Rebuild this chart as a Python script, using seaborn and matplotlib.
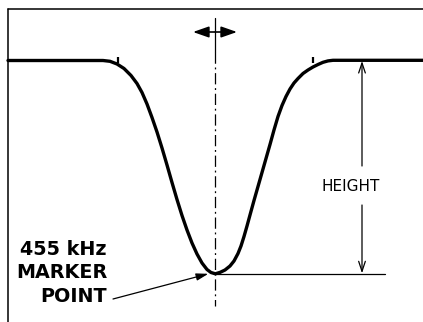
import matplotlib
matplotlib.use("Agg")
import matplotlib.pyplot as plt
import seaborn as sns
import pandas as pd

# Response curve (pixel-like diagram units, y grows downward)
curve_x = [8, 60, 103, 110, 117, 124, 131, 137, 142, 147, 152, 157, 162, 167, 172, 177,
           182, 187, 192, 197, 202, 207, 211, 215.3,
           220, 225, 230, 234, 238, 241, 244, 247, 250, 254, 258, 262, 266, 270, 274,
           278, 282, 286, 290, 294, 298, 303, 308, 313, 318, 323, 328, 333, 380, 423]
curve_y = [60.5, 60.5, 60.5, 61.3, 64, 68.5, 75.5, 83.5, 92.5, 104, 117.5, 132, 148, 165,
           182.5, 199.5, 215.5, 230, 243, 254, 263, 269.5, 272.5, 273.8,
           272.4, 270, 266, 261, 253.5, 246, 236.5, 226, 215, 200.5, 186.5, 172.5, 158.5,
           144.5, 130, 116.5, 105.5, 96.5, 89, 83, 78.5, 73.5, 70, 67, 64.5, 62.3, 60.9,
           60.3, 60.3, 60.3]
marker_ticks_x = [118, 313]
marker_label = "455 kHz\nMARKER\nPOINT"
height_label = "HEIGHT"

df = pd.DataFrame({"x": curve_x, "y": curve_y})

sns.set_theme(style="white")
plt.rcParams["font.family"] = ["DejaVu Sans"]

fig = plt.figure(figsize=(4.23, 3.22), dpi=100)
ax = fig.add_axes([0, 0, 1, 1])
ax.set_xlim(0, 423)
ax.set_ylim(322, 0)
ax.axis("off")

# frame
ax.plot([8, 423], [9, 9], color="black", lw=1.1)
ax.plot([8, 8], [9, 322], color="black", lw=1.1)

# curve
sns.lineplot(data=df, x="x", y="y", ax=ax, color="black", lw=2.4, sort=False,
             estimator=None)
ax.lines[-1].set_solid_joinstyle("round")

# small marker ticks on shoulders
for tx in marker_ticks_x:
    ax.plot([tx, tx], [56.5, 63], color="black", lw=1.6, solid_capstyle="butt")

min_i = curve_y.index(max(curve_y))
cx, cy = curve_x[min_i], curve_y[min_i]

# dash-dot center line
ax.plot([cx, cx], [18, 52], color="black", lw=0.9)
ax.plot([cx, cx], [52, 306], color="black", lw=0.9, dashes=(9, 3, 1.5, 3))

# horizontal double arrow at top
ax.annotate("", xy=(193, 32), xytext=(cx, 32),
            arrowprops=dict(arrowstyle="-|>,head_length=0.8,head_width=0.28", color="black", lw=1.2,
                            shrinkA=0, shrinkB=0))
ax.annotate("", xy=(237, 32), xytext=(cx, 32),
            arrowprops=dict(arrowstyle="-|>,head_length=0.8,head_width=0.28", color="black", lw=1.2,
                            shrinkA=0, shrinkB=0))

# bottom reference line
ax.plot([cx, 385], [cy, cy], color="black", lw=0.9)

# height arrows
hx = 362
ax.annotate("", xy=(hx, 61), xytext=(hx, 166),
            arrowprops=dict(arrowstyle="->,head_length=0.6,head_width=0.2", color="black", lw=0.9,
                            shrinkA=0, shrinkB=0))
ax.annotate("", xy=(hx, cy - 0.5), xytext=(hx, 205),
            arrowprops=dict(arrowstyle="->,head_length=0.6,head_width=0.2", color="black", lw=0.9,
                            shrinkA=0, shrinkB=0))
ax.text(351, 186, height_label, ha="center", va="center", fontsize=11, color="black")

# marker label and arrow
ax.text(107, 273, marker_label, ha="right", va="center", fontsize=13.8, fontweight="bold",
        color="black", linespacing=1.33)
ax.annotate("", xy=(cx - 7, cy), xytext=(113, 299),
            arrowprops=dict(arrowstyle="-|>,head_length=0.6,head_width=0.18", color="black", lw=0.9,
                            shrinkA=0, shrinkB=0))

fig.savefig("out.png", dpi=100)
